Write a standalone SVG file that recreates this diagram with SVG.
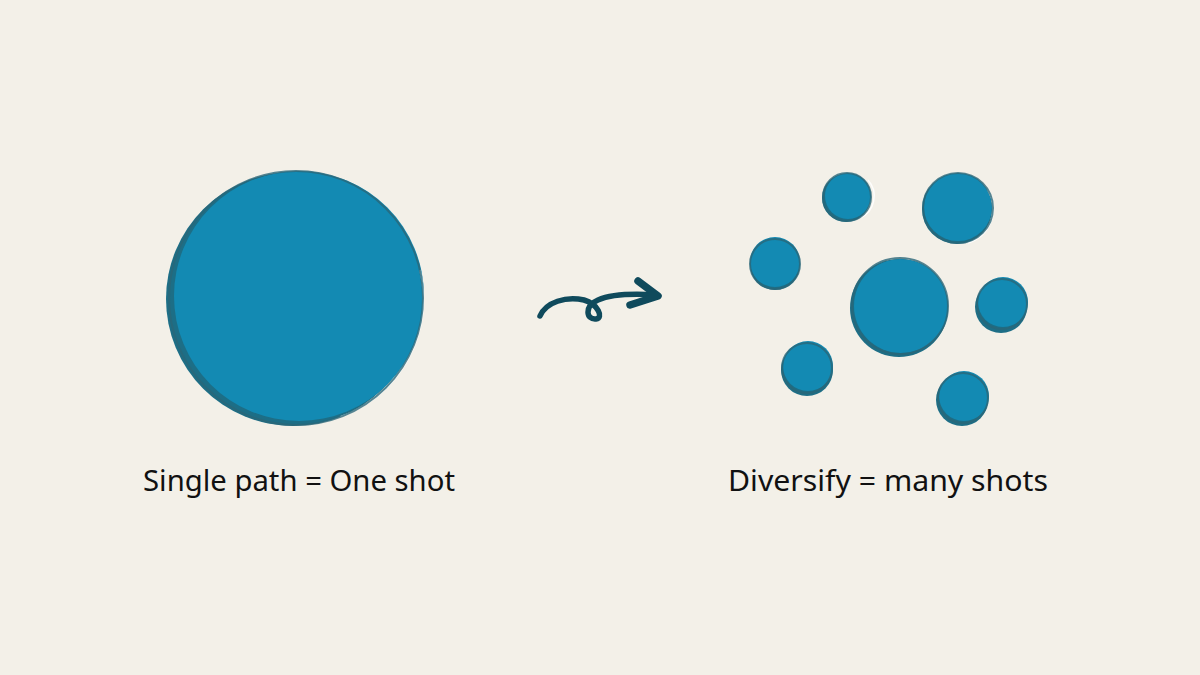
<svg xmlns="http://www.w3.org/2000/svg" width="1200" height="675" viewBox="0 0 1200 675">
<style>
.under{fill:#1d6e86}
.fill{fill:#138ab3}
.rim{fill:none;stroke:#2a6778;stroke-width:2;opacity:.8}
.hl{fill:none;stroke:#ffffff;stroke-width:1.5;opacity:.9}
.lbl{font-family:"Comic Sans MS","Noto Sans","DejaVu Sans",sans-serif;font-size:29px;fill:#111}
.arrow{fill:none;stroke:#0f4a5c;stroke-width:5.5;stroke-linecap:round;stroke-linejoin:round}
.head{fill:none;stroke:#0f4a5c;stroke-width:7.5;stroke-linecap:round;stroke-linejoin:round}
</style>
<rect width="1200" height="675" fill="#f3f0e8"/>
<g id="single-circle">
<circle class="under" cx="293" cy="299" r="127"/>
<circle class="fill" cx="299" cy="296" r="125"/>
<path class="hl" d="M 420 270 A 125 125 0 0 1 340 417"/>
<circle class="rim" cx="296" cy="298" r="127"/>
</g>
<g id="connectors">
<path class="arrow" d="M 540 316 C 546 302 566 296 584 300 C 598 304 604 318 596 319 C 586 320 584 306 598 300 C 614 293 640 294 656 295"/>
<path class="head" d="M 638 281 L 658 296 L 630 305"/>
</g>
<g id="label-single"><text class="lbl" x="143" y="491" textLength="312" lengthAdjust="spacingAndGlyphs">Single path = One shot</text></g>
<g id="c1"><circle class="under" cx="846" cy="198" r="24"/><circle class="fill" cx="848" cy="196" r="23"/><path class="hl" d="M 868 180 A 24 24 0 0 1 860 218"/><circle class="rim" cx="847" cy="197" r="24"/></g>
<g id="c2"><circle class="under" cx="957" cy="209" r="35"/><circle class="fill" cx="958" cy="207" r="34"/><path class="hl" d="M 988 190 A 36 36 0 0 1 968 243"/><circle class="rim" cx="958" cy="208" r="35"/></g>
<g id="c3"><circle class="under" cx="775" cy="265" r="25"/><circle class="fill" cx="775" cy="262" r="25"/><circle class="rim" cx="775" cy="264" r="25"/></g>
<g id="c4"><circle class="under" cx="899" cy="308" r="49"/><circle class="fill" cx="901" cy="306" r="47"/><circle class="rim" cx="900" cy="306" r="48"/></g>
<g id="c5"><circle class="under" cx="1001" cy="307" r="26"/><circle class="fill" cx="1003" cy="302" r="25"/><circle class="rim" cx="1002" cy="304" r="25"/></g>
<g id="c6"><circle class="under" cx="807" cy="370" r="26"/><circle class="fill" cx="808" cy="366" r="25"/><circle class="rim" cx="807" cy="368" r="25"/></g>
<g id="c7"><circle class="under" cx="962" cy="400" r="26"/><circle class="fill" cx="964" cy="396" r="25"/><circle class="rim" cx="963" cy="398" r="25"/></g>
<g id="label-diversify"><text class="lbl" x="728" y="491" textLength="320" lengthAdjust="spacingAndGlyphs">Diversify = many shots</text></g>
</svg>
